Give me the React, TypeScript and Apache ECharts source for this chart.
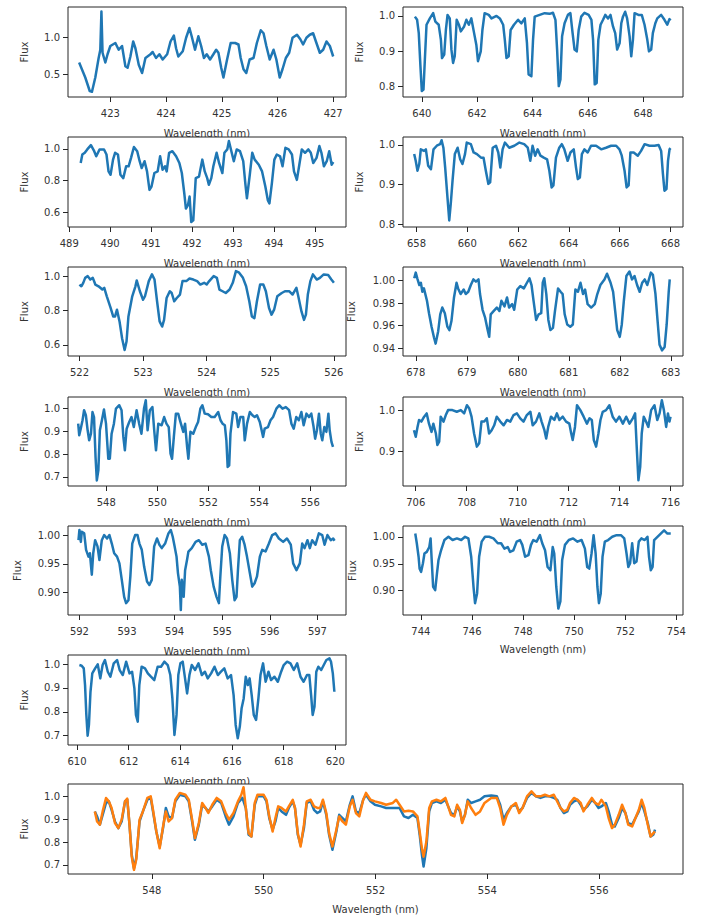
import React, { useEffect, useRef } from "react";
import * as echarts from "echarts";

// ---------- data (wavelength nm, flux) ----------
const spec423: [number, number][] = [[422.44,0.66],[422.55,0.46],[422.63,0.28],[422.67,0.27],[422.73,0.46],[422.79,0.72],[422.82,0.83],[422.84,1.34],[422.86,0.79],[422.91,0.66],[422.95,0.77],[423.0,0.88],[423.09,0.92],[423.15,0.83],[423.21,0.88],[423.27,0.61],[423.31,0.59],[423.36,0.74],[423.41,0.94],[423.45,0.85],[423.51,0.63],[423.57,0.52],[423.63,0.72],[423.72,0.77],[423.76,0.8],[423.82,0.72],[423.88,0.77],[423.94,0.7],[424.02,0.77],[424.08,0.94],[424.14,1.02],[424.18,0.85],[424.22,0.74],[424.3,0.81],[424.36,0.99],[424.42,1.12],[424.46,1.01],[424.52,0.83],[424.58,1.01],[424.63,0.88],[424.68,0.72],[424.73,0.77],[424.79,0.7],[424.85,0.77],[424.9,0.83],[424.94,0.79],[424.99,0.59],[425.03,0.46],[425.09,0.68],[425.16,0.92],[425.24,0.92],[425.3,0.9],[425.34,0.72],[425.39,0.57],[425.44,0.52],[425.5,0.7],[425.57,0.72],[425.63,0.92],[425.7,1.09],[425.75,1.05],[425.8,0.88],[425.86,0.7],[425.93,0.83],[425.98,0.7],[426.04,0.46],[426.09,0.57],[426.15,0.72],[426.21,0.79],[426.27,0.99],[426.35,1.03],[426.41,0.97],[426.46,0.9],[426.52,0.99],[426.58,1.03],[426.64,1.05],[426.69,0.94],[426.76,0.79],[426.82,0.83],[426.88,0.94],[426.94,0.88],[427.0,0.74]];

const spec640: [number, number][] = [[639.75,0.998],[639.83,0.989],[639.89,0.951],[639.95,0.857],[640.0,0.786],[640.06,0.79],[640.11,0.875],[640.17,0.975],[640.29,0.993],[640.41,1.008],[640.49,0.984],[640.61,0.975],[640.69,0.932],[640.73,0.88],[640.81,0.89],[640.87,0.96],[640.93,1.003],[641.01,0.993],[641.07,0.904],[641.13,0.866],[641.19,0.885],[641.26,0.989],[641.34,0.975],[641.41,0.956],[641.53,0.97],[641.61,0.989],[641.7,0.975],[641.79,0.993],[641.89,0.951],[641.97,0.918],[642.03,0.871],[642.13,0.899],[642.19,0.96],[642.27,1.008],[642.42,1.003],[642.52,0.993],[642.7,1.0],[642.82,0.993],[642.94,0.975],[643.0,0.932],[643.06,0.88],[643.14,0.885],[643.21,0.96],[643.33,0.975],[643.48,0.989],[643.6,0.979],[643.72,0.993],[643.8,0.923],[643.86,0.833],[643.96,0.828],[644.02,0.932],[644.08,0.998],[644.26,1.003],[644.44,1.008],[644.62,1.006],[644.74,1.009],[644.83,0.989],[644.89,0.904],[644.95,0.8],[645.01,0.819],[645.07,0.942],[645.16,0.979],[645.28,1.003],[645.37,1.008],[645.45,0.951],[645.52,0.904],[645.6,0.899],[645.67,0.96],[645.76,0.998],[645.88,1.009],[646.03,1.003],[646.13,0.989],[646.19,0.932],[646.25,0.805],[646.32,0.809],[646.38,0.932],[646.46,0.975],[646.55,0.989],[646.63,1.003],[646.73,0.993],[646.82,1.003],[646.91,0.97],[646.99,0.951],[647.06,0.904],[647.15,0.923],[647.21,0.979],[647.27,0.998],[647.35,1.012],[647.42,0.993],[647.51,0.942],[647.57,0.885],[647.63,0.932],[647.69,1.008],[647.83,1.003],[647.95,1.003],[648.05,0.975],[648.15,0.932],[648.21,0.899],[648.29,0.904],[648.35,0.951],[648.44,0.979],[648.51,0.993],[648.65,1.003],[648.77,0.989],[648.87,0.975],[648.95,0.991],[648.99,0.987]];

const spec490: [number, number][] = [[489.28,0.911],[489.32,0.964],[489.38,0.975],[489.44,0.996],[489.53,1.023],[489.61,0.985],[489.66,0.953],[489.74,0.996],[489.85,0.996],[489.91,0.964],[489.96,0.858],[490.01,0.837],[490.07,0.932],[490.12,0.975],[490.19,0.964],[490.25,0.837],[490.32,0.816],[490.39,0.89],[490.45,0.89],[490.51,0.943],[490.58,1.011],[490.66,0.985],[490.72,0.922],[490.77,0.879],[490.84,0.922],[490.9,0.858],[490.96,0.742],[491.01,0.763],[491.08,0.848],[491.16,0.858],[491.22,0.953],[491.28,0.869],[491.34,0.89],[491.38,0.858],[491.44,0.975],[491.52,0.985],[491.61,0.953],[491.69,0.911],[491.75,0.848],[491.81,0.721],[491.85,0.625],[491.9,0.647],[491.94,0.7],[491.98,0.541],[492.03,0.551],[492.09,0.816],[492.17,0.826],[492.25,0.932],[492.31,0.858],[492.37,0.816],[492.41,0.774],[492.47,0.816],[492.52,0.89],[492.6,0.975],[492.66,0.911],[492.74,0.848],[492.79,0.975],[492.86,0.996],[492.9,1.049],[492.96,0.985],[493.02,0.922],[493.09,0.996],[493.17,0.985],[493.25,0.922],[493.3,0.784],[493.34,0.689],[493.41,0.837],[493.47,0.975],[493.53,0.932],[493.63,0.9],[493.71,0.858],[493.79,0.763],[493.85,0.678],[493.89,0.657],[493.95,0.784],[494.01,0.932],[494.07,0.964],[494.15,0.953],[494.21,0.89],[494.28,1.006],[494.36,0.996],[494.44,0.964],[494.49,0.858],[494.56,0.805],[494.62,0.9],[494.68,0.996],[494.76,0.975],[494.84,0.996],[494.9,0.975],[494.96,0.911],[495.04,0.943],[495.11,1.017],[495.16,0.975],[495.22,0.89],[495.29,0.922],[495.35,0.985],[495.41,0.9],[495.45,0.917]];

const spec660: [number, number][] = [[657.91,0.977],[657.97,0.96],[658.04,0.935],[658.11,0.952],[658.17,0.989],[658.3,0.985],[658.37,0.989],[658.46,0.948],[658.57,0.939],[658.67,0.989],[658.8,0.998],[658.93,1.002],[658.99,1.012],[659.06,0.993],[659.13,0.943],[659.22,0.868],[659.29,0.81],[659.35,0.852],[659.42,0.91],[659.51,0.977],[659.62,0.993],[659.72,0.964],[659.81,0.952],[659.91,0.977],[659.98,1.006],[660.14,1.002],[660.25,0.981],[660.38,0.977],[660.54,0.968],[660.64,0.968],[660.73,0.935],[660.83,0.902],[660.9,0.906],[661.0,0.993],[661.13,0.998],[661.22,0.981],[661.3,0.943],[661.39,0.989],[661.48,1.006],[661.65,0.993],[661.85,0.998],[662.05,1.006],[662.24,1.002],[662.38,0.993],[662.48,0.96],[662.57,0.998],[662.67,0.973],[662.77,0.989],[662.88,0.973],[663.01,0.968],[663.14,0.964],[663.23,0.935],[663.32,0.893],[663.39,0.898],[663.49,0.968],[663.62,0.993],[663.72,1.002],[663.82,0.989],[663.95,0.96],[664.06,0.981],[664.19,0.989],[664.28,0.943],[664.35,0.914],[664.43,0.918],[664.51,0.977],[664.61,0.989],[664.74,0.981],[664.87,0.998],[665.07,0.998],[665.27,0.989],[665.46,0.993],[665.66,0.998],[665.86,0.998],[665.99,0.989],[666.08,0.973],[666.19,0.935],[666.27,0.893],[666.35,0.898],[666.42,0.981],[666.55,0.981],[666.71,0.973],[666.84,0.985],[666.98,1.002],[667.17,0.998],[667.37,0.998],[667.53,1.0],[667.63,0.985],[667.7,0.927],[667.76,0.885],[667.84,0.889],[667.9,0.96],[667.96,0.989],[668.0,0.992]];

const spec523: [number, number][] = [[522.0,0.951],[522.03,0.941],[522.06,0.961],[522.09,0.99],[522.13,1.0],[522.17,0.98],[522.21,0.99],[522.25,0.951],[522.3,0.941],[522.36,0.922],[522.39,0.932],[522.43,0.883],[522.49,0.815],[522.53,0.766],[522.56,0.766],[522.59,0.805],[522.63,0.737],[522.67,0.639],[522.71,0.571],[522.74,0.62],[522.77,0.766],[522.83,0.883],[522.88,0.941],[522.9,0.975],[522.95,0.912],[523.0,0.863],[523.03,0.883],[523.09,0.971],[523.14,1.01],[523.18,0.98],[523.22,0.854],[523.26,0.737],[523.3,0.707],[523.33,0.746],[523.37,0.873],[523.42,0.912],[523.45,0.902],[523.49,0.854],[523.53,0.873],[523.58,0.893],[523.62,0.971],[523.68,0.971],[523.73,0.986],[523.79,0.98],[523.85,0.971],[523.9,0.951],[523.96,0.961],[524.0,0.951],[524.04,0.971],[524.11,1.0],[524.16,0.99],[524.2,0.922],[524.25,0.912],[524.3,0.902],[524.36,0.922],[524.41,0.961],[524.46,1.029],[524.51,1.02],[524.57,0.99],[524.62,0.941],[524.67,0.854],[524.71,0.766],[524.75,0.756],[524.79,0.854],[524.84,0.951],[524.89,0.951],[524.93,0.912],[524.98,0.815],[525.02,0.776],[525.06,0.805],[525.11,0.883],[525.18,0.902],[525.23,0.912],[525.3,0.912],[525.35,0.893],[525.41,0.932],[525.44,0.883],[525.49,0.795],[525.53,0.746],[525.56,0.776],[525.59,0.893],[525.63,0.971],[525.67,1.01],[525.73,0.98],[525.78,0.99],[525.84,1.01],[525.91,1.006],[525.96,0.98],[526.0,0.961]];

const spec680: [number, number][] = [[677.97,1.002],[678.0,1.007],[678.03,1.002],[678.07,0.996],[678.1,0.998],[678.13,0.99],[678.16,0.993],[678.22,0.982],[678.26,0.971],[678.31,0.959],[678.36,0.949],[678.39,0.944],[678.44,0.955],[678.48,0.97],[678.52,0.976],[678.57,0.971],[678.62,0.959],[678.66,0.956],[678.7,0.964],[678.75,0.985],[678.8,0.998],[678.83,0.993],[678.88,0.988],[678.94,0.992],[678.98,0.988],[679.03,0.99],[679.08,0.996],[679.13,1.001],[679.18,0.999],[679.23,1.001],[679.26,0.988],[679.31,0.974],[679.36,0.967],[679.41,0.956],[679.44,0.95],[679.47,0.97],[679.53,0.973],[679.59,0.976],[679.64,0.973],[679.68,0.982],[679.74,0.977],[679.79,0.985],[679.83,0.976],[679.89,0.979],[679.93,0.974],[679.99,0.992],[680.05,0.995],[680.12,0.993],[680.18,0.998],[680.23,1.002],[680.27,0.996],[680.31,0.982],[680.36,0.965],[680.41,0.97],[680.46,0.971],[680.49,0.998],[680.52,1.002],[680.56,0.988],[680.6,0.965],[680.64,0.956],[680.69,0.958],[680.73,0.973],[680.79,0.993],[680.84,0.99],[680.88,0.988],[680.92,0.97],[680.97,0.961],[681.03,0.959],[681.08,0.961],[681.13,0.992],[681.18,0.99],[681.23,0.998],[681.28,0.988],[681.32,0.992],[681.37,0.979],[681.44,0.976],[681.51,0.979],[681.56,0.988],[681.62,0.996],[681.7,1.001],[681.75,1.006],[681.82,0.998],[681.87,0.99],[681.91,0.973],[681.95,0.956],[682.0,0.95],[682.04,0.961],[682.08,0.982],[682.13,1.004],[682.19,1.008],[682.24,1.001],[682.29,1.004],[682.34,0.996],[682.39,0.99],[682.44,0.998],[682.49,1.001],[682.54,0.996],[682.61,1.007],[682.65,1.005],[682.7,0.988],[682.74,0.965],[682.78,0.943],[682.83,0.938],[682.88,0.941],[682.92,0.961],[682.96,0.99],[682.98,1.001]];

const spec548: [number, number][] = [[546.9,0.934],[546.94,0.883],[547.0,0.912],[547.07,0.949],[547.13,0.993],[547.2,0.971],[547.27,0.905],[547.33,0.861],[547.4,0.89],[547.46,0.985],[547.52,0.963],[547.58,0.788],[547.63,0.685],[547.69,0.729],[547.75,0.905],[547.83,0.949],[547.91,0.996],[547.99,0.934],[548.08,0.78],[548.14,0.78],[548.21,0.89],[548.3,0.934],[548.38,1.0],[548.51,1.015],[548.6,0.993],[548.67,0.876],[548.73,0.817],[548.8,0.912],[548.9,0.941],[548.99,0.963],[549.08,0.919],[549.19,0.993],[549.29,0.934],[549.38,0.89],[549.48,1.0],[549.55,1.037],[549.62,0.905],[549.71,0.993],[549.81,1.007],[549.88,0.905],[549.95,0.817],[550.04,0.934],[550.17,0.927],[550.27,0.963],[550.36,0.934],[550.45,0.919],[550.52,0.802],[550.58,0.78],[550.65,0.876],[550.73,0.978],[550.82,0.978],[550.91,0.941],[551.02,0.898],[551.09,0.934],[551.17,0.832],[551.22,0.78],[551.3,0.898],[551.41,0.89],[551.51,0.919],[551.6,0.941],[551.69,1.0],[551.77,1.015],[551.86,0.978],[551.99,0.975],[552.12,0.963],[552.25,0.963],[552.39,0.985],[552.48,0.949],[552.56,0.934],[552.65,0.927],[552.71,0.861],[552.76,0.744],[552.82,0.751],[552.87,0.89],[552.97,0.985],[553.1,0.978],[553.17,0.919],[553.26,0.963],[553.37,0.963],[553.43,0.861],[553.52,0.934],[553.63,0.985],[553.73,0.971],[553.82,0.963],[553.91,0.971],[554.02,0.941],[554.15,0.876],[554.21,0.912],[554.34,0.919],[554.44,0.949],[554.54,0.963],[554.67,1.0],[554.78,1.015],[554.91,1.0],[555.04,1.007],[555.17,0.993],[555.26,0.934],[555.35,0.912],[555.45,0.963],[555.55,0.949],[555.65,0.985],[555.74,0.927],[555.85,0.978],[555.95,0.963],[556.04,0.978],[556.13,0.919],[556.19,0.868],[556.26,0.905],[556.34,0.978],[556.41,0.89],[556.47,0.861],[556.55,0.919],[556.63,0.898],[556.71,0.978],[556.76,0.905],[556.83,0.854],[556.89,0.832]];

const spec710: [number, number][] = [[705.93,0.951],[706.0,0.935],[706.07,0.959],[706.13,0.976],[706.22,0.972],[706.33,0.984],[706.43,0.992],[706.52,0.967],[706.62,0.947],[706.69,0.967],[706.79,0.943],[706.85,0.915],[706.92,0.923],[706.98,0.984],[707.09,0.972],[707.18,0.988],[707.27,1.0],[707.44,1.0],[707.61,0.996],[707.77,1.0],[707.9,0.992],[708.01,1.012],[708.1,1.004],[708.19,0.984],[708.29,0.943],[708.4,0.911],[708.49,0.919],[708.58,0.972],[708.69,0.972],[708.79,0.98],[708.88,0.943],[708.98,0.951],[709.08,0.963],[709.18,0.984],[709.32,0.972],[709.45,0.963],[709.58,0.976],[709.71,0.972],[709.84,0.988],[709.97,0.992],[710.1,0.98],[710.23,0.972],[710.36,0.988],[710.5,0.996],[710.59,0.963],[710.72,0.972],[710.85,0.992],[710.94,0.972],[711.05,0.951],[711.12,0.931],[711.2,0.959],[711.31,0.984],[711.44,0.976],[711.54,0.992],[711.64,0.976],[711.77,0.984],[711.9,0.972],[712.03,0.967],[712.09,0.947],[712.16,0.927],[712.25,0.959],[712.33,1.012],[712.46,1.0],[712.59,0.984],[712.72,0.967],[712.82,0.98],[712.91,0.976],[712.99,0.927],[713.08,0.911],[713.17,0.943],[713.25,0.976],[713.34,0.996],[713.47,1.0],[713.6,1.012],[713.73,0.984],[713.86,0.972],[713.99,0.984],[714.13,0.967],[714.26,0.984],[714.39,0.967],[714.52,0.98],[714.61,0.992],[714.68,0.902],[714.74,0.829],[714.81,0.862],[714.87,0.943],[714.95,0.984],[715.04,0.972],[715.13,0.959],[715.24,1.0],[715.37,1.012],[715.48,0.976],[715.57,0.992],[715.66,1.024],[715.74,1.0],[715.83,0.959],[715.9,0.992],[715.96,0.972],[716.0,0.984]];

const spec594: [number, number][] = [[591.98,0.992],[592.0,1.01],[592.03,0.989],[592.05,1.007],[592.1,1.004],[592.14,0.975],[592.19,0.963],[592.22,0.969],[592.26,0.931],[592.29,0.969],[592.33,0.992],[592.38,0.981],[592.42,0.957],[592.47,0.992],[592.52,1.001],[592.58,0.995],[592.63,1.001],[592.68,0.986],[592.73,0.969],[592.79,0.963],[592.84,0.951],[592.89,0.922],[592.94,0.892],[592.98,0.881],[593.03,0.886],[593.07,0.928],[593.11,0.986],[593.17,1.001],[593.22,1.001],[593.26,0.986],[593.31,0.975],[593.36,0.945],[593.42,0.919],[593.47,0.913],[593.52,0.922],[593.57,0.981],[593.63,0.995],[593.68,0.984],[593.73,0.978],[593.8,0.986],[593.87,1.004],[593.92,1.01],[593.96,0.998],[594.0,0.981],[594.04,0.963],[594.07,0.934],[594.11,0.91],[594.13,0.869],[594.15,0.922],[594.19,0.892],[594.22,0.939],[594.26,0.957],[594.29,0.972],[594.36,0.978],[594.44,0.989],[594.51,0.992],[594.58,0.984],[594.65,0.986],[594.72,0.963],[594.76,0.939],[594.82,0.91],[594.88,0.892],[594.93,0.881],[594.96,0.928],[595.0,0.981],[595.05,1.001],[595.1,0.995],[595.16,0.969],[595.21,0.922],[595.26,0.886],[595.3,0.892],[595.33,0.939],[595.37,0.992],[595.42,0.998],[595.47,0.984],[595.52,0.963],[595.58,0.934],[595.63,0.91],[595.68,0.916],[595.73,0.928],[595.79,0.963],[595.84,0.975],[595.91,0.972],[595.98,0.986],[596.05,1.001],[596.12,1.004],[596.19,0.995],[596.28,0.989],[596.36,0.995],[596.44,0.984],[596.49,0.951],[596.56,0.939],[596.63,0.951],[596.68,0.986],[596.73,0.978],[596.79,0.992],[596.84,0.978],[596.89,0.992],[596.96,0.984],[597.03,1.004],[597.1,1.001],[597.15,0.984],[597.21,1.001],[597.28,0.992],[597.33,0.995],[597.36,0.991]];

const spec748: [number, number][] = [[743.78,1.006],[743.84,0.988],[743.91,0.963],[743.95,0.941],[744.01,0.935],[744.08,0.951],[744.14,0.969],[744.23,0.972],[744.33,0.981],[744.38,0.997],[744.43,0.951],[744.48,0.907],[744.56,0.901],[744.63,0.932],[744.69,0.957],[744.79,0.975],[744.92,0.994],[745.08,1.0],[745.24,0.994],[745.41,0.997],[745.58,0.994],[745.73,1.0],[745.86,0.997],[745.97,0.963],[746.06,0.907],[746.12,0.877],[746.2,0.895],[746.28,0.963],[746.38,0.991],[746.51,1.0],[746.67,1.0],[746.84,0.997],[747.01,0.988],[747.14,0.988],[747.27,0.978],[747.4,0.981],[747.49,0.972],[747.62,0.975],[747.75,0.991],[747.88,0.994],[747.97,0.985],[748.08,0.963],[748.21,0.966],[748.31,0.985],[748.4,0.994],[748.53,0.991],[748.66,1.003],[748.75,0.988],[748.86,0.975],[748.96,0.944],[749.07,0.938],[749.16,0.981],[749.22,0.969],[749.3,0.907],[749.38,0.867],[749.46,0.88],[749.53,0.957],[749.64,0.985],[749.79,0.994],[749.96,0.997],[750.13,0.991],[750.29,0.994],[750.42,0.978],[750.51,0.944],[750.59,0.941],[750.68,0.969],[750.76,1.003],[750.84,0.969],[750.91,0.907],[750.97,0.877],[751.04,0.895],[751.11,0.963],[751.2,0.991],[751.33,0.994],[751.49,1.0],[751.66,1.003],[751.83,1.003],[751.96,0.997],[752.05,0.969],[752.12,0.944],[752.19,0.951],[752.27,0.988],[752.35,0.951],[752.44,0.954],[752.53,0.991],[752.63,0.997],[752.76,0.994],[752.87,1.0],[752.93,0.963],[753.0,0.938],[753.07,0.944],[753.13,0.994],[753.26,1.0],[753.39,1.006],[753.52,1.012],[753.65,1.006],[753.78,1.006]];

const spec615: [number, number][] = [[610.09,0.996],[610.18,0.993],[610.26,0.982],[610.31,0.912],[610.36,0.787],[610.41,0.7],[610.46,0.745],[610.52,0.884],[610.59,0.961],[610.7,0.982],[610.8,0.999],[610.9,0.94],[610.99,0.996],[611.08,1.017],[611.19,0.968],[611.29,0.947],[611.42,1.003],[611.55,1.017],[611.65,0.975],[611.77,0.954],[611.9,1.01],[612.03,0.961],[612.13,0.968],[612.22,0.898],[612.28,0.787],[612.35,0.759],[612.41,0.912],[612.5,0.989],[612.63,0.982],[612.74,0.961],[612.86,0.947],[612.99,0.933],[613.12,0.989],[613.25,0.989],[613.38,1.01],[613.51,0.996],[613.61,0.954],[613.69,0.856],[613.77,0.703],[613.85,0.787],[613.92,0.954],[614.0,1.003],[614.09,1.01],[614.18,0.94],[614.26,0.877],[614.35,0.954],[614.44,0.996],[614.57,0.975],[614.7,1.003],[614.83,0.954],[614.95,0.968],[615.06,0.94],[615.19,0.961],[615.32,0.989],[615.45,0.954],[615.57,0.968],[615.7,0.982],[615.83,0.94],[615.96,0.954],[616.06,0.87],[616.14,0.745],[616.22,0.689],[616.3,0.738],[616.37,0.815],[616.45,0.856],[616.53,0.947],[616.61,0.912],[616.68,0.94],[616.76,0.87],[616.84,0.787],[616.93,0.766],[617.02,0.856],[617.1,0.954],[617.2,1.003],[617.3,0.926],[617.41,0.968],[617.51,0.933],[617.64,0.947],[617.77,0.926],[617.9,0.968],[618.0,0.996],[618.13,1.01],[618.26,1.003],[618.39,0.975],[618.52,1.003],[618.65,0.947],[618.77,0.926],[618.9,0.954],[618.99,0.954],[619.06,0.87],[619.12,0.787],[619.19,0.821],[619.26,0.968],[619.34,0.989],[619.45,0.975],[619.55,0.996],[619.65,1.017],[619.77,1.024],[619.83,1.01],[619.9,0.961],[619.96,0.884]];

const obs548: [number, number][] = [[546.98,0.934],[547.02,0.912],[547.07,0.876],[547.12,0.919],[547.18,0.971],[547.23,0.978],[547.28,0.941],[547.34,0.89],[547.4,0.861],[547.46,0.89],[547.52,0.978],[547.56,0.985],[547.6,0.876],[547.64,0.744],[547.68,0.685],[547.72,0.729],[547.78,0.89],[547.84,0.934],[547.92,0.985],[547.98,0.993],[548.02,0.934],[548.08,0.846],[548.14,0.78],[548.2,0.861],[548.25,0.949],[548.3,0.912],[548.36,0.905],[548.42,0.978],[548.5,1.007],[548.6,1.0],[548.66,0.978],[548.72,0.89],[548.77,0.81],[548.84,0.876],[548.9,0.963],[548.96,0.949],[549.01,0.934],[549.08,0.956],[549.16,0.985],[549.24,0.971],[549.32,0.912],[549.38,0.876],[549.46,0.912],[549.54,0.971],[549.62,0.993],[549.68,0.949],[549.73,0.832],[549.78,0.824],[549.84,0.963],[549.89,1.0],[550.0,1.0],[550.05,0.978],[550.1,0.905],[550.16,0.854],[550.21,0.89],[550.26,0.949],[550.32,0.934],[550.4,0.919],[550.45,0.949],[550.52,0.978],[550.56,0.949],[550.61,0.832],[550.66,0.788],[550.72,0.861],[550.77,0.971],[550.84,0.978],[550.9,0.941],[550.96,0.927],[551.01,0.934],[551.06,0.978],[551.12,0.919],[551.17,0.832],[551.23,0.766],[551.3,0.846],[551.35,0.919],[551.41,0.905],[551.47,0.89],[551.54,0.963],[551.59,1.0],[551.65,0.934],[551.71,0.927],[551.78,0.985],[551.83,1.007],[551.91,0.978],[551.99,0.963],[552.1,0.956],[552.19,0.949],[552.31,0.949],[552.43,0.949],[552.51,0.912],[552.59,0.905],[552.67,0.919],[552.75,0.905],[552.79,0.832],[552.83,0.744],[552.86,0.693],[552.91,0.773],[552.96,0.934],[553.01,0.971],[553.09,0.978],[553.17,0.971],[553.25,0.985],[553.3,0.956],[553.35,0.927],[553.41,0.919],[553.46,0.956],[553.51,0.934],[553.55,0.89],[553.6,0.919],[553.65,0.985],[553.71,0.971],[553.79,0.978],[553.87,0.985],[553.95,1.0],[554.07,1.004],[554.17,1.0],[554.23,0.963],[554.29,0.898],[554.35,0.927],[554.43,0.956],[554.51,0.963],[554.57,0.934],[554.63,0.949],[554.71,0.993],[554.79,1.015],[554.87,1.0],[554.95,0.993],[555.03,1.0],[555.11,1.0],[555.19,0.993],[555.25,0.985],[555.31,0.949],[555.37,0.927],[555.43,0.934],[555.48,0.963],[555.55,0.978],[555.61,0.985],[555.67,0.963],[555.72,0.941],[555.79,0.956],[555.87,0.985],[555.93,0.971],[555.99,0.949],[556.04,0.956],[556.12,0.971],[556.17,0.934],[556.23,0.876],[556.28,0.868],[556.35,0.905],[556.41,0.949],[556.47,0.927],[556.52,0.883],[556.59,0.876],[556.65,0.905],[556.71,0.934],[556.76,0.971],[556.81,0.934],[556.87,0.883],[556.92,0.824],[556.97,0.832],[557.0,0.854]];

const model548: [number, number][] = [[546.98,0.934],[547.02,0.89],[547.07,0.876],[547.12,0.934],[547.18,0.993],[547.23,0.978],[547.28,0.949],[547.34,0.883],[547.4,0.861],[547.46,0.898],[547.52,0.978],[547.56,0.99],[547.6,0.876],[547.64,0.736],[547.68,0.678],[547.72,0.722],[547.78,0.898],[547.84,0.934],[547.92,0.993],[547.98,1.0],[548.02,0.941],[548.08,0.846],[548.14,0.773],[548.2,0.868],[548.25,0.934],[548.3,0.89],[548.36,0.905],[548.42,0.985],[548.5,1.015],[548.6,1.007],[548.66,0.985],[548.72,0.898],[548.77,0.817],[548.84,0.883],[548.9,0.971],[548.96,0.949],[549.01,0.927],[549.08,0.963],[549.16,0.993],[549.24,0.978],[549.32,0.927],[549.38,0.898],[549.46,0.927],[549.54,0.978],[549.6,1.007],[549.64,1.04],[549.68,0.949],[549.73,0.839],[549.78,0.824],[549.84,0.971],[549.89,1.007],[550.0,1.007],[550.05,0.985],[550.1,0.912],[550.16,0.846],[550.21,0.905],[550.26,0.956],[550.32,0.949],[550.4,0.934],[550.45,0.956],[550.52,0.985],[550.56,0.949],[550.61,0.839],[550.66,0.78],[550.72,0.876],[550.77,0.978],[550.84,0.985],[550.9,0.956],[550.96,0.949],[551.01,0.949],[551.06,0.985],[551.12,0.927],[551.17,0.839],[551.23,0.78],[551.3,0.854],[551.35,0.912],[551.41,0.89],[551.47,0.876],[551.54,0.956],[551.59,0.985],[551.65,0.927],[551.71,0.912],[551.78,0.985],[551.83,1.015],[551.91,0.985],[551.99,0.978],[552.1,0.971],[552.19,0.963],[552.31,0.971],[552.37,0.985],[552.43,0.963],[552.51,0.934],[552.59,0.937],[552.67,0.934],[552.75,0.912],[552.79,0.846],[552.83,0.773],[552.86,0.736],[552.91,0.802],[552.96,0.949],[553.01,0.978],[553.09,0.985],[553.17,0.978],[553.25,0.993],[553.3,0.956],[553.35,0.919],[553.41,0.912],[553.46,0.963],[553.51,0.941],[553.55,0.883],[553.6,0.919],[553.65,0.978],[553.71,0.949],[553.79,0.919],[553.87,0.934],[553.95,0.971],[554.07,0.993],[554.17,0.993],[554.23,0.949],[554.29,0.876],[554.35,0.919],[554.43,0.956],[554.51,0.971],[554.57,0.927],[554.63,0.949],[554.71,1.0],[554.79,1.022],[554.87,1.0],[554.95,1.0],[555.03,1.007],[555.11,1.0],[555.19,1.007],[555.25,0.978],[555.31,0.949],[555.37,0.934],[555.43,0.941],[555.48,0.971],[555.55,0.993],[555.61,0.985],[555.67,0.971],[555.72,0.934],[555.79,0.963],[555.87,0.993],[555.93,0.971],[555.99,0.963],[556.04,0.985],[556.12,0.956],[556.17,0.905],[556.23,0.861],[556.28,0.876],[556.35,0.919],[556.41,0.963],[556.47,0.927],[556.52,0.876],[556.59,0.868],[556.65,0.905],[556.71,0.941],[556.76,0.985],[556.81,0.949],[556.87,0.876],[556.92,0.824],[556.97,0.839],[557.0,0.846]];

// ---------- tick values ----------
const xt423 = [423, 424, 425, 426, 427];
const xt640 = [640, 642, 644, 646, 648];
const xt490 = [489, 490, 491, 492, 493, 494, 495];
const xt660 = [658, 660, 662, 664, 666, 668];
const xt523 = [522, 523, 524, 525, 526];
const xt680 = [678, 679, 680, 681, 682, 683];
const xt548 = [548, 550, 552, 554, 556];
const xt710 = [706, 708, 710, 712, 714, 716];
const xt594 = [592, 593, 594, 595, 596, 597];
const xt748 = [744, 746, 748, 750, 752, 754];
const xt615 = [610, 612, 614, 616, 618, 620];

const yt423 = [0.5, 1.0];
const yt640 = [0.8, 0.9, 1.0];
const yt490 = [0.6, 0.8, 1.0];
const yt660 = [0.8, 0.9, 1.0];
const yt523 = [0.6, 0.8, 1.0];
const yt680 = [0.94, 0.96, 0.98, 1.0];
const yt548 = [0.7, 0.8, 0.9, 1.0];
const yt710 = [0.9, 1.0];
const yt594 = [0.9, 0.95, 1.0];
const yt748 = [0.9, 0.95, 1.0];
const yt615 = [0.7, 0.8, 0.9, 1.0];

const BLUE = "#1f77b4";
const ORANGE = "#ff7f0e";
const INK = "#262626";
const FONT = "DejaVu Sans";

type Panel = {
  series: { data: [number, number][]; color: string }[];
  x: [number, number];
  y: [number, number];
  xt: number[];
  yt: number[];
  yDec: number;
  rect: [number, number, number, number];
  row: number;
  yGap: number;
  xGap: number;
};

const L = 68, LW = 278, R = 403, RW = 280;

const panels: Panel[] = [
  { series: [{ data: spec423, color: BLUE }], x: [422.24, 427.23], y: [0.2, 1.4], xt: xt423, yt: yt423, yDec: 1, rect: [L, 7, LW, 90], row: 0, yGap: 39, xGap: 31 },
  { series: [{ data: spec640, color: BLUE }], x: [639.32, 649.44], y: [0.769, 1.0255], xt: xt640, yt: yt640, yDec: 1, rect: [R, 7, RW, 90], row: 0, yGap: 39, xGap: 31 },
  { series: [{ data: spec490, color: BLUE }], x: [488.97, 495.76], y: [0.509, 1.074], xt: xt490, yt: yt490, yDec: 1, rect: [L, 137, LW, 90], row: 1, yGap: 39, xGap: 31 },
  { series: [{ data: spec660, color: BLUE }], x: [657.47, 668.49], y: [0.7935, 1.02], xt: xt660, yt: yt660, yDec: 1, rect: [R, 137, RW, 90], row: 1, yGap: 39, xGap: 31 },
  { series: [{ data: spec523, color: BLUE }], x: [521.82, 526.19], y: [0.536, 1.053], xt: xt523, yt: yt523, yDec: 1, rect: [L, 267, LW, 89], row: 2, yGap: 39, xGap: 31 },
  { series: [{ data: spec680, color: BLUE }], x: [677.75, 683.24], y: [0.933, 1.012], xt: xt680, yt: yt680, yDec: 2, rect: [R, 267, RW, 89], row: 2, yGap: 47, xGap: 31 },
  { series: [{ data: spec548, color: BLUE }], x: [546.5, 557.4], y: [0.6605, 1.051], xt: xt548, yt: yt548, yDec: 1, rect: [L, 397, LW, 89], row: 3, yGap: 39, xGap: 31 },
  { series: [{ data: spec710, color: BLUE }], x: [705.5, 716.49], y: [0.815, 1.032], xt: xt710, yt: yt710, yDec: 1, rect: [R, 397, RW, 89], row: 3, yGap: 39, xGap: 31 },
  { series: [{ data: spec594, color: BLUE }], x: [591.76, 597.6], y: [0.86, 1.017], xt: xt594, yt: yt594, yDec: 2, rect: [L, 526, LW, 89], row: 4, yGap: 46, xGap: 31 },
  { series: [{ data: spec748, color: BLUE }], x: [743.3, 754.26], y: [0.855, 1.02], xt: xt748, yt: yt748, yDec: 2, rect: [R, 526, RW, 89], row: 4, yGap: 46, xGap: 29 },
  { series: [{ data: spec615, color: BLUE }], x: [609.65, 620.41], y: [0.661, 1.038], xt: xt615, yt: yt615, yDec: 1, rect: [L, 655, LW, 90], row: 5, yGap: 39, xGap: 31 },
  { series: [{ data: obs548, color: BLUE }, { data: model548, color: ORANGE }], x: [546.5, 557.5], y: [0.66, 1.054], xt: xt548, yt: yt548, yDec: 1, rect: [L, 784, 615, 90], row: 6, yGap: 39, xGap: 30 },
];

function buildOption() {
  const textStyle = { fontFamily: FONT, fontSize: 10, color: "#333" };
  const grid = panels.map((p) => ({
    left: p.rect[0], top: p.rect[1], width: p.rect[2], height: p.rect[3],
    show: true, backgroundColor: "#ffffff", borderColor: INK, borderWidth: 1,
    z: p.row * 2, containLabel: false,
  }));
  const xAxis = panels.map((p, i) => ({
    type: "value", gridIndex: i, min: p.x[0], max: p.x[1], z: p.row * 2 + 1,
    axisLine: { show: false, onZero: false },
    axisTick: { show: true, length: 5, customValues: p.xt, lineStyle: { color: INK, width: 1 } },
    axisLabel: { customValues: p.xt, margin: 11, ...textStyle, formatter: (v: number) => String(Math.round(v)) },
    splitLine: { show: false },
    name: "Wavelength (nm)", nameLocation: "middle", nameGap: p.xGap,
    nameTextStyle: { ...textStyle },
  }));
  const yAxis = panels.map((p, i) => ({
    type: "value", gridIndex: i, min: p.y[0], max: p.y[1], z: p.row * 2 + 1,
    axisLine: { show: false, onZero: false },
    axisTick: { show: true, length: 5, customValues: p.yt, lineStyle: { color: INK, width: 1 } },
    axisLabel: { customValues: p.yt, margin: 8, ...textStyle, formatter: (v: number) => v.toFixed(p.yDec) },
    splitLine: { show: false },
    name: "Flux", nameLocation: "middle", nameRotate: 90, nameGap: p.yGap,
    nameTextStyle: { ...textStyle },
  }));
  const series: any[] = [];
  panels.forEach((p, i) => {
    p.series.forEach((s) => {
      series.push({
        type: "line", xAxisIndex: i, yAxisIndex: i, data: s.data,
        showSymbol: false, symbol: "none", z: p.row * 2 + 1,
        lineStyle: { color: s.color, width: 2.5, join: "round" }, itemStyle: { color: s.color },
        clip: true,
      });
    });
  });
  return { animation: false, backgroundColor: "#ffffff", grid, xAxis, yAxis, series };
}

export default function App() {
  const ref = useRef<HTMLDivElement>(null);
  useEffect(() => {
    document.body.style.margin = "0";
    if (!ref.current) return;
    const chart = echarts.init(ref.current, null, { renderer: "svg" });
    chart.setOption(buildOption() as any);
    return () => chart.dispose();
  }, []);
  return <div ref={ref} style={{ width: 702, height: 919, background: "#fff" }} />;
}
